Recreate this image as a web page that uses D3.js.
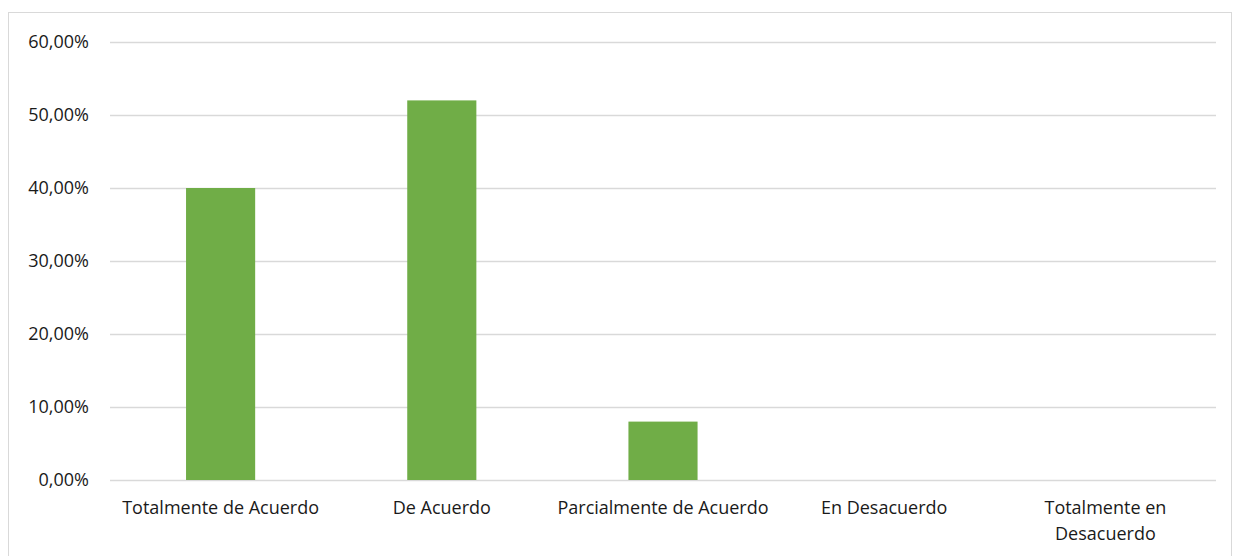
<!DOCTYPE html>
<html>
<head>
<meta charset="utf-8">
<script src="https://cdnjs.cloudflare.com/ajax/libs/d3/7.8.5/d3.min.js"></script>
<style>
  body { margin: 0; background: #fff; }
  text { font-family: "Open Sans", sans-serif; fill: #1a1a1a; }
</style>
</head>
<body>
<div id="plot1"></div>
<script>
var categories = ["Totalmente de Acuerdo", "De Acuerdo", "Parcialmente de Acuerdo", "En Desacuerdo", "Totalmente en Desacuerdo"];
var values = [0.40, 0.52, 0.08, 0, 0];
var yTicks = [0, 0.1, 0.2, 0.3, 0.4, 0.5, 0.6];

var W = 1235, H = 556;
var margin = {t: 42, r: 19, b: 76, l: 110};
var width = W - margin.l - margin.r,
    height = H - margin.t - margin.b;
var fontSize = '18px';

var svg = d3.select('#plot1').append('svg')
    .attr('width', W).attr('height', H);

// chart frame
svg.append('rect')
    .attr('x', 8.5).attr('y', 12.5)
    .attr('width', 1223).attr('height', 560)
    .attr('fill', 'none').attr('stroke', '#d9d9d9');

var g = svg.append('g').attr('transform', 'translate(' + margin.l + ',' + margin.t + ')');

var x = d3.scaleBand().domain(categories).range([0, width]).paddingInner(0.6875).paddingOuter(0.34375);
var y = d3.scaleLinear().domain([0, 0.6]).range([height, 0]);

var fmt = function(v){ return d3.format('.2f')(v * 100).replace('.', ',') + '%'; };

// gridlines
g.selectAll('.grid').data(yTicks).enter().append('line')
    .attr('x1', 0).attr('x2', width)
    .attr('y1', function(d){ return Math.round(y(d)) + 0.5; })
    .attr('y2', function(d){ return Math.round(y(d)) + 0.5; })
    .attr('stroke', '#d9d9d9').attr('stroke-width', 1.5);

// y labels
g.selectAll('.ylab').data(yTicks).enter().append('text')
    .attr('x', -21).attr('y', function(d){ return y(d); })
    .attr('dy', '0.35em')
    .attr('text-anchor', 'end')
    .style('font-size', fontSize)
    .text(fmt);

// bars
g.selectAll('.bar').data(values).enter().append('rect')
    .attr('x', function(d, i){ return x(categories[i]); })
    .attr('width', x.bandwidth())
    .attr('y', function(d){ return y(d); })
    .attr('height', function(d){ return height - y(d); })
    .attr('fill', '#70ad47');

// category labels (wrap long ones)
var xAxis = d3.axisBottom(x).tickSize(0).tickPadding(0);
var ax = g.append('g').attr('transform', 'translate(0,' + height + ')').call(xAxis);
ax.select('.domain').remove();
ax.selectAll('text')
    .style('font-size', fontSize)
    .style('font-family', '"Open Sans", sans-serif')
    .attr('fill', '#1a1a1a')
    .attr('y', 0)
    .attr('dy', null)
    .each(function(d){
        var t = d3.select(this);
        t.text(null);
        var lines = d === "Totalmente en Desacuerdo" ? ["Totalmente en", "Desacuerdo"] : [d];
        lines.forEach(function(l, i){
            t.append('tspan').attr('x', 0).attr('y', 34 + i * 26).text(l);
        });
    });
</script>
</body>
</html>
